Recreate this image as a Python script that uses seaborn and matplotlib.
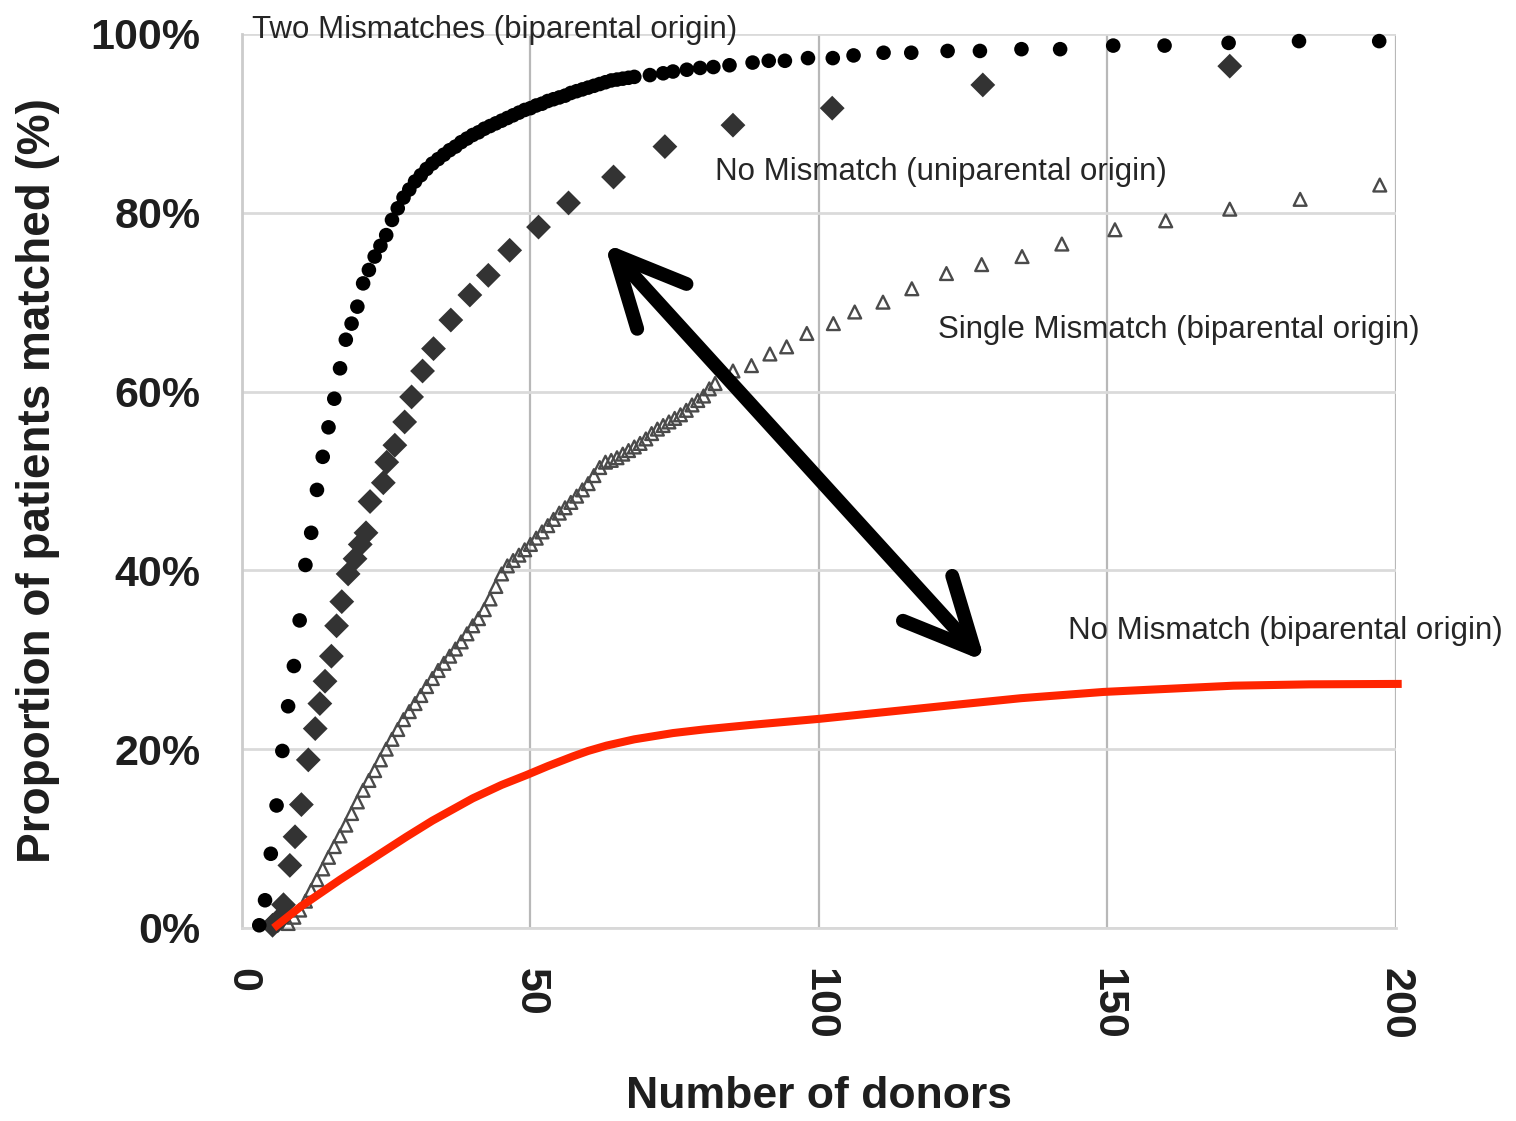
import matplotlib
matplotlib.use('Agg')
import matplotlib.pyplot as plt
import seaborn as sns

sns.set_theme(style='white')
plt.rcParams['font.family'] = ['Liberation Sans', 'DejaVu Sans']

# --- data ---
# Two Mismatches (biparental origin): black dots
two_x = list(range(3, 69)) + [70.7, 73, 74.7, 77.1, 79.4, 81.7, 84.5, 88.5, 91.3, 94.1,
                              98.1, 102.4, 106, 111.2, 116, 122.3, 127.9, 135.1, 141.8,
                              151, 159.9, 171, 183.2, 197.1]
two_y = [0.3, 3.1, 8.3, 13.7, 19.8, 24.8, 29.3, 34.4, 40.6, 44.2, 49.0, 52.7, 56.0, 59.2,
         62.6, 65.8, 67.6, 69.5, 72.1, 73.6, 75.1,
         76.3, 77.5, 79.2, 80.5, 81.7, 82.6, 83.5, 84.2, 84.9, 85.5, 86.0, 86.5, 87.0, 87.4,
         87.9, 88.3, 88.7, 89.0, 89.4, 89.7, 90.0, 90.3, 90.6, 90.9, 91.2, 91.5, 91.7, 92.0,
         92.2, 92.5, 92.7, 92.9, 93.1, 93.4, 93.6, 93.8, 94.0, 94.2, 94.4, 94.6, 94.8, 94.9,
         95.0, 95.1, 95.2,
         95.4, 95.6, 95.8, 96.0, 96.2, 96.3, 96.5, 96.8, 97.0, 97.0, 97.3, 97.3, 97.6, 97.9,
         97.9, 98.1, 98.1, 98.3, 98.3, 98.7, 98.7, 99.0, 99.2, 99.2]

# No Mismatch (uniparental origin): dark diamonds
uni_x = [5.3, 6.2, 7.2, 8.3, 9.2, 10.3, 11.5, 12.7, 13.5, 14.4, 15.5, 16.4, 17.3, 18.4,
         19.6, 20.5, 21.5, 22.2, 24.5, 25.1, 26.5, 28.2, 29.4, 31.3, 33.2, 36.2, 39.5,
         42.7, 46.4, 51.4, 56.6, 64.4, 73.3, 85.1, 102.3, 128.4, 171.2]
uni_y = [0.3, 0.8, 2.6, 7.0, 10.2, 13.8, 18.8, 22.3, 25.1, 27.6, 30.4, 33.8, 36.5, 39.6,
         41.3, 42.9, 44.2, 47.7, 49.8, 52.1, 54.0, 56.6, 59.4, 62.3, 64.8, 68.0, 70.8,
         73.0, 75.8, 78.4, 81.1, 84.0, 87.4, 89.8, 91.7, 94.3, 96.4]

# Single Mismatch (biparental origin): hollow triangles
single_x = list(range(8, 83)) + [85.1, 88.3, 91.5, 94.4, 97.9, 102.5, 106.2, 111.1, 116.1,
                                 122.1, 128.2, 135.2, 142.1, 151.3, 160.1, 171.2, 183.4, 197.2]
single_y = [0.5, 1.2, 2.0, 3.0, 4.2, 5.4, 6.6, 7.9, 9.1, 10.3, 11.5, 12.8, 14.1, 15.4, 16.5,
            17.6, 18.8, 20.0, 21.1, 22.2, 23.3, 24.2, 25.1, 26.0, 27.0, 27.9, 28.8, 29.6,
            30.4, 31.2, 32.0, 32.9, 33.8, 34.6, 35.6, 36.8, 38.2, 39.6, 40.5, 41.1, 41.7,
            42.3, 42.9, 43.6, 44.3, 45.0, 45.7, 46.4, 47.0, 47.6, 48.3, 49.0, 49.7, 50.6,
            51.5, 52.1, 52.3, 52.6, 53.0, 53.4, 53.8, 54.2, 54.7, 55.3, 55.8, 56.2, 56.6,
            57.0, 57.4, 57.9, 58.5, 59.0, 59.5, 60.3, 60.9,
            62.3, 62.9, 64.2, 65.0, 66.5, 67.6, 68.9, 70.0, 71.5, 73.2, 74.2, 75.1, 76.5,
            78.1, 79.1, 80.4, 81.5, 83.1]

# No Mismatch (biparental origin): red curve
bi_x = [5.5, 10, 17, 28.5, 33, 40, 45, 49.3, 53, 57.4, 60, 63.2, 68, 74.7, 80, 88, 100.2,
        122.7, 135, 149.3, 171.8, 185, 201]
bi_y = [0.0, 2.3, 5.4, 10.2, 12.0, 14.5, 16.0, 17.1, 18.1, 19.2, 19.8, 20.4, 21.1, 21.8,
        22.2, 22.7, 23.4, 24.9, 25.7, 26.4, 27.1, 27.25, 27.3]

x_ticks = [0, 50, 100, 150, 200]
y_ticks = [0, 20, 40, 60, 80, 100]
y_tick_labels = ['0%', '20%', '40%', '60%', '80%', '100%']

labels = {
    'two': 'Two Mismatches (biparental origin)',
    'uni': 'No Mismatch (uniparental origin)',
    'single': 'Single Mismatch (biparental origin)',
    'bi': 'No Mismatch (biparental origin)',
}

# --- figure ---
fig = plt.figure(figsize=(15.16, 11.21), dpi=100)
ax = fig.add_axes([0.1596, 0.1722, 0.7612, 0.7975])

sns.lineplot(x=bi_x, y=bi_y, color='#ff2400', lw=5.8, ax=ax, clip_on=False, zorder=4,
             sort=False, solid_joinstyle='round', solid_capstyle='butt')
sns.scatterplot(x=single_x, y=single_y, marker='^', s=85, color='none',
                edgecolor='#4a4a4a', linewidth=1.7, ax=ax, clip_on=False, zorder=3)
sns.scatterplot(x=uni_x, y=uni_y, marker='D', s=160, color='#333333',
                edgecolor='none', ax=ax, clip_on=False, zorder=3)
sns.scatterplot(x=two_x, y=two_y, marker='o', s=110, color='black',
                edgecolor='none', ax=ax, clip_on=False, zorder=3)

ax.set_xlim(0, 200)
ax.set_ylim(0, 100)

# grid
ax.set_axisbelow(True)
ax.xaxis.grid(True, color='#b8b8b8', lw=1.6)
ax.yaxis.grid(True, color='#dadada', lw=2)
for side in ['top', 'right']:
    ax.spines[side].set_visible(False)
ax.spines['left'].set_color('#cccccc')
ax.spines['bottom'].set_color('#d8d8d8')
ax.spines['left'].set_linewidth(2)
ax.spines['bottom'].set_linewidth(2)

ax.set_xticks(x_ticks)
ax.set_xticklabels([str(t) for t in x_ticks], rotation=270, ha='center', va='top')
ax.set_yticks(y_ticks)
ax.set_yticklabels(y_tick_labels)
ax.tick_params(axis='both', length=0, labelsize=31, labelcolor='#1e1e1e')
ax.tick_params(axis='x', pad=29)
ax.tick_params(axis='y', pad=30)
for lab in ax.get_xticklabels() + ax.get_yticklabels():
    lab.set_fontweight('bold')

ax.set_xlabel('Number of donors', fontsize=32, fontweight='bold', color='#1e1e1e',
              labelpad=26)
ax.set_ylabel('Proportion of patients matched (%)', fontsize=33, fontweight='bold',
              color='#1e1e1e', labelpad=22)

# series labels
ax.text(1.7, 100.4, labels['two'], fontsize=22.5, ha='left', va='center')
ax.text(82.0, 84.6, labels['uni'], fontsize=22.5, ha='left', va='center')
ax.text(120.7, 66.9, labels['single'], fontsize=22.5, ha='left', va='center')
ax.text(143.1, 33.2, labels['bi'], fontsize=22.5, ha='left', va='center')

# double headed arrow
ax.annotate('', xy=(62.8, 76.6), xytext=(128.8, 29.8),
            arrowprops=dict(arrowstyle='<->,head_length=50,head_width=24',
                            mutation_scale=1, lw=10, color='black',
                            shrinkA=0, shrinkB=0, capstyle='round',
                            joinstyle='round'),
            zorder=5)

fig.savefig('out.png', dpi=100)
